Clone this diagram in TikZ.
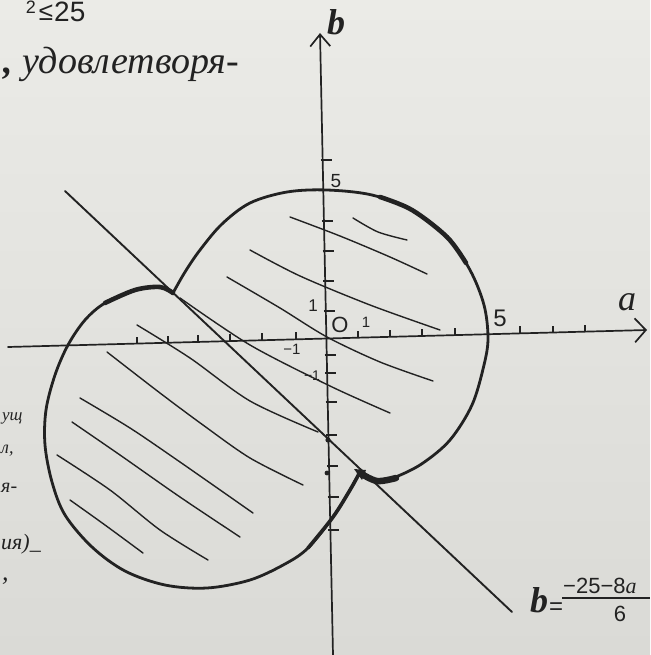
\documentclass[tikz,border=0pt]{standalone}
\usepackage{fontspec}
\setmainfont{Liberation Sans}
\newfontfamily\cursive{Liberation Serif}
\usetikzlibrary{arrows.meta}
\definecolor{ink}{RGB}{34,34,34}
\definecolor{paperA}{RGB}{235,235,231}
\definecolor{paperB}{RGB}{218,218,214}
\begin{document}
\begin{tikzpicture}[x=1pt,y=-1pt,
  bound/.style={draw=ink,line width=2.8pt,line cap=round,line join=round},
  thickbound/.style={draw=ink,line width=4.6pt,line cap=round},
  axisline/.style={draw=ink,line width=1.7pt,line cap=round},
  tickmark/.style={draw=ink,line width=1.4pt},
  hatchline/.style={draw=ink,line width=1.4pt,line cap=round},
  chordline/.style={draw=ink,line width=1.9pt,line cap=round},
  lbl/.style={text=ink,inner sep=0pt},
  hand/.style={text=ink,inner sep=0pt,font=\cursive\itshape}]
\useasboundingbox (0,0) rectangle (650,655);
\shade[top color=paperA,bottom color=paperB] (0,0) rectangle (650,655);

% axes
\coordinate (aS) at (8,347);
\coordinate (aE) at (647,330);
\coordinate (bS) at (333,655);
\coordinate (bE) at (320,33);
\draw[axisline,-{Straight Barb[length=11pt,width=24pt]}] (aS) -- (aE);
\draw[axisline,-{Straight Barb[length=12pt,width=20pt]}] (bS) -- (bE);

% ticks on a-axis
\foreach \tx in {137,168,198,230,262,296,358,390,422,455,520,553,585}
  \draw[tickmark] (\tx,{347-(\tx-8)*0.0266}) -- ++(0,-7);
% ticks on b-axis
\foreach \ty in {160,221,251,281,311,355,373,402,435,466,497,530}
  \draw[tickmark] ({333-(655-\ty)*0.0209-2},\ty) -- ++(11,0);

% left circle (lower-left disk)
\draw[bound] plot[smooth,tension=0.55] coordinates {(173,293) (160,287) (135,290) (105,303) (85,320) (68,345) (55,375) (46,410) (45,445) (52,482) (65,515) (92,547) (125,571) (165,585) (207,588) (250,580) (285,564) (308,548) (333,517) (350,490) (360,472)};
\draw[thickbound] plot[smooth,tension=0.55] coordinates {(105,303) (135,290) (160,287) (173,293)};
\draw[draw=ink,line width=3.6pt,line cap=round] plot[smooth,tension=0.55] coordinates {(308,548) (333,517) (350,490) (360,472)};

% right circle (centred at the origin)
\draw[bound] plot[smooth,tension=0.55] coordinates {(173,293) (185,272) (200,250) (222,224) (250,203) (287,192) (327,190) (372,195) (412,210) (447,237) (470,270) (484,305) (488,338) (484,365) (472,405) (450,440) (423,463) (398,476) (377,482) (362,473)};
\draw[thickbound] plot[smooth,tension=0.55] coordinates {(380,197) (412,210) (447,237) (466,263)};
\draw[draw=ink,line width=6.5pt,line cap=round] plot[smooth,tension=0.55] coordinates {(360,473) (377,481) (396,478)};
\fill[ink] (354,469) -- (366,470) -- (362,480) -- cycle;

% chord line b = (-25-8a)/6
\coordinate (L1) at (65,191);
\coordinate (L2) at (512,612);
\draw[chordline] (L1) -- (L2);
\fill[ink] (328,440) circle (2.6pt);
\fill[ink] (327,473) circle (2.4pt);

% hatching in the right disk
\draw[hatchline] plot[smooth] coordinates {(353,218) (378,232) (407,240)};
\draw[hatchline] plot[smooth] coordinates {(290,217) (340,236) (390,257) (427,274)};
\draw[hatchline] plot[smooth] coordinates {(250,250) (300,276) (370,305) (440,330)};
\draw[hatchline] plot[smooth] coordinates {(227,277) (280,308) (327,337) (380,362) (433,381)};
\draw[hatchline] plot[smooth] coordinates {(180,298) (250,345) (330,386) (390,413)};
% hatching in the left disk
\draw[hatchline] plot[smooth] coordinates {(137,325) (190,358) (250,401) (318,432)};
\draw[hatchline] plot[smooth] coordinates {(107,352) (160,393) (203,425) (250,458) (303,485)};
\draw[hatchline] plot[smooth] coordinates {(80,398) (130,428) (180,462) (253,513)};
\draw[hatchline] plot[smooth] coordinates {(72,422) (120,455) (180,497) (240,537)};
\draw[hatchline] plot[smooth] coordinates {(57,455) (110,490) (160,530) (208,560)};
\draw[hatchline] plot[smooth] coordinates {(70,500) (105,525) (143,553)};

% axis labels
\node[hand,font=\cursive\itshape\bfseries\fontsize{36}{36}\selectfont] (blab) at (336,22) {b};
\node[hand,font=\cursive\itshape\fontsize{36}{36}\selectfont] (alab) at (627,302) {a};
\node[lbl,font=\fontsize{19}{19}\selectfont] (b5) at (336,181) {5};
\node[lbl,font=\fontsize{24}{24}\selectfont] (a5) at (500,318) {5};
\node[lbl,font=\fontsize{17}{17}\selectfont] (b1) at (313,306) {1};
\node[lbl,font=\fontsize{22}{22}\selectfont] (orig) at (340,325) {O};
\node[lbl,font=\fontsize{15}{15}\selectfont] (a1) at (366,322) {1};
\node[lbl,font=\fontsize{15}{15}\selectfont] (am1) at (292,349) {−1};
\node[lbl,font=\fontsize{14}{14}\selectfont] (bm1) at (312,376) {−1};

% formula
\node[hand,font=\cursive\itshape\bfseries\fontsize{36}{36}\selectfont] (fb) at (539,600) {b};
\node[lbl,font=\fontsize{24}{24}\selectfont] (feq) at (556,609) {=};
\node[lbl,font=\fontsize{22}{22}\selectfont,anchor=west] (fnum) at (563,586) {−25−8\cursive\itshape a};
\coordinate (fbarL) at (562,598);
\coordinate (fbarR) at (650,598);
\draw[draw=ink,line width=1.8pt] (fbarL) -- (fbarR);
\node[lbl,font=\fontsize{22}{22}\selectfont] (fden) at (620,614) {6};

% cut-off text of the page
\node[lbl,font=\fontsize{18}{18}\selectfont] (sup2) at (31,7) {2};
\node[lbl,font=\fontsize{26}{26}\selectfont] (leq) at (46,13) {≤};
\node[lbl,font=\fontsize{28}{28}\selectfont,anchor=west] (t25) at (54,12) {25};
\node[hand,font=\cursive\itshape\bfseries\fontsize{38}{38}\selectfont,anchor=base west] (comma) at (3,74) {,};
\node[hand,font=\cursive\itshape\fontsize{38}{38}\selectfont,anchor=base west] (udov) at (22,74) {удовлетворя-};
\node[hand,font=\cursive\itshape\fontsize{17}{17}\selectfont,anchor=base west] (frag1) at (2,420) {ущ};
\node[hand,font=\cursive\itshape\fontsize{18}{18}\selectfont,anchor=base west] (frag2) at (1,453) {л,};
\node[hand,font=\cursive\itshape\fontsize{20}{20}\selectfont,anchor=base west] (frag3) at (1,492) {я-};
\node[hand,font=\cursive\itshape\fontsize{22}{22}\selectfont,anchor=base west] (frag4) at (1,549) {ия)\_};
\node[hand,font=\cursive\itshape\fontsize{26}{26}\selectfont,anchor=base west] (frag5) at (2,580) {,};
\end{tikzpicture}
\end{document}
